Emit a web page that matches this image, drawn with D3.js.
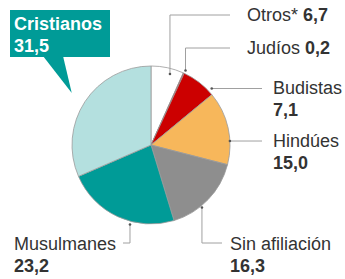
<!DOCTYPE html>
<html>
<head>
<meta charset="utf-8">
<script src="https://cdn.jsdelivr.net/npm/d3@7"></script>
<style>
  body { margin: 0; background: #fff; }
  text { font-family: "Liberation Sans", Arial, sans-serif; font-size: 18px; fill: #333; }
</style>
</head>
<body>
<svg id="chart" width="345" height="279"></svg>
<script>
// data: share of world population by religion (%)
var religions = ["Otros*", "Judíos", "Budistas", "Hindúes", "Sin afiliación", "Musulmanes", "Cristianos"];
var shares = [6.7, 0.2, 7.1, 15.0, 16.3, 23.2, 31.5];
var labels = ["6,7", "0,2", "7,1", "15,0", "16,3", "23,2", "31,5"];
var colors = ["#ffffff", "#cc0000", "#cc0000", "#f7b75b", "#8e8e8e", "#009b97", "#b4e0df"];

var svg = d3.select("#chart");
var cx = 151, cy = 145, r = 79;

var pie = d3.pie().sort(null).value(d => d);
var arc = d3.arc().innerRadius(0).outerRadius(r);
var arcs = pie(shares);

var g = svg.append("g").attr("transform", `translate(${cx},${cy})`);

g.selectAll("path")
  .data(arcs)
  .enter().append("path")
  .attr("d", arc)
  .attr("fill", (d, i) => colors[i])
  .attr("stroke", "#9a9a9a")
  .attr("stroke-width", 0.8);

// label layout: where the leader touches the slice and how it runs
var layout = [
  { frac: 0.62, rad: 0.93, path: "v", y: 15, x: 230, tx: 247, ty: 15, inline: true },
  { frac: 1.0, rad: 1.04, path: "v", y: 48, x: 230, tx: 247, ty: 48, inline: true },
  { frac: 0.87, rad: 1.05, path: "h", x: 262, tx: 273, ty: 88 },
  { frac: 0.68, rad: 1.0, path: "h", x: 262, tx: 273, ty: 141 },
  { frac: 0.62, rad: 1.02, path: "v", y: 243, x: 222, tx: 230, ty: 244 },
  { frac: 0.38, rad: 1.04, path: "v", y: 243, x: 123, tx: 14, ty: 244 }
];

function tip(a, l) {
  var ang = a.startAngle + (a.endAngle - a.startAngle) * l.frac;
  return [cx + Math.sin(ang) * r * l.rad, cy - Math.cos(ang) * r * l.rad];
}

layout.forEach(function (l, i) {
  var p = tip(arcs[i], l);
  var pts = l.path == "v"
    ? [p, [p[0], l.y], [l.x, l.y]]
    : [p, [l.x, p[1]]];
  svg.append("path")
    .attr("d", d3.line()(pts))
    .attr("fill", "none")
    .attr("stroke", "#a0a0a0")
    .attr("stroke-width", 1);
  svg.append("circle")
    .attr("cx", p[0]).attr("cy", p[1]).attr("r", 1.3)
    .attr("fill", "#555");

  var t = svg.append("text").attr("x", l.tx).attr("y", l.ty).attr("dy", "0.35em");
  if (l.inline) {
    t.append("tspan").text(religions[i] + " ");
    t.append("tspan").attr("font-weight", "bold").text(labels[i]);
  } else {
    t.text(religions[i]);
    svg.append("text").attr("x", l.tx).attr("y", l.ty + 22).attr("dy", "0.35em")
      .attr("font-weight", "bold").text(labels[i]);
  }
});

// callout for the largest slice
var big = arcs[6];
var mid = (big.startAngle + big.endAngle) / 2;
var apex = [cx + Math.sin(mid) * r * 1.2, cy - Math.cos(mid) * r * 1.2];
var box = { x: 10, y: 10, w: 100, h: 47 };

svg.append("path")
  .attr("d", d3.line()([[43, box.y + box.h - 1], [63, box.y + box.h - 1], apex]) + "Z")
  .attr("fill", "#009b97");
svg.append("rect")
  .attr("x", box.x).attr("y", box.y).attr("width", box.w).attr("height", box.h)
  .attr("fill", "#009b97");
svg.append("text").attr("x", 14).attr("y", 30)
  .attr("font-weight", "bold").style("fill", "#fff").text(religions[6]);
svg.append("text").attr("x", 14).attr("y", 52)
  .attr("font-weight", "bold").style("fill", "#fff").text(labels[6]);
</script>
</body>
</html>
